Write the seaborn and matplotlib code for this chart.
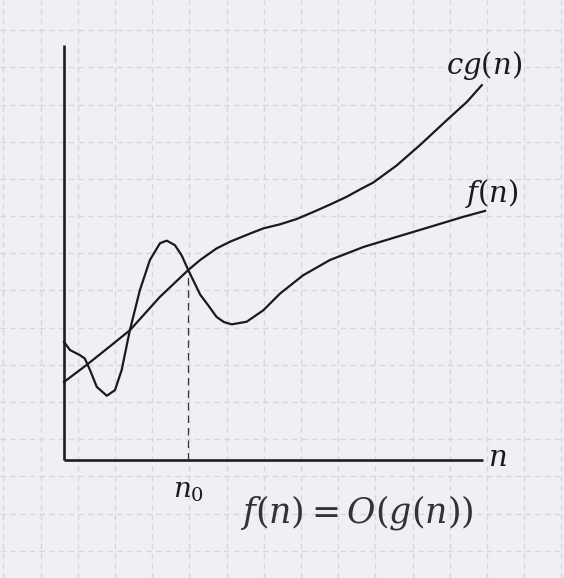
import numpy as np
import pandas as pd
import matplotlib
matplotlib.use("Agg")
import matplotlib.pyplot as plt
import seaborn as sns

# Кривые в единицах клетки сетки (начало координат - угол осей)
cg_n = [0.00, 0.61, 1.20, 1.77, 2.58, 3.34, 3.66, 4.10, 4.46, 5.00, 5.36, 5.81, 6.25, 6.70,
        7.15, 7.60, 8.00, 8.31, 8.94, 9.57, 10.29, 10.83, 11.23]
cg_val = [2.10, 2.56, 3.03, 3.49, 4.39, 5.11, 5.38, 5.69, 5.87, 6.09, 6.23, 6.34, 6.48, 6.67,
          6.87, 7.08, 7.30, 7.46, 7.92, 8.47, 9.14, 9.63, 10.08]

f_n = [0.00, 0.16, 0.43, 0.56, 0.70, 0.88, 1.15, 1.37, 1.55, 1.77, 2.04, 2.31, 2.58, 2.76,
       2.98, 3.16, 3.34, 3.66, 3.87, 4.10, 4.30, 4.51, 4.91, 5.36, 5.81, 6.43, 7.15, 8.05,
       8.94, 9.84, 10.73, 11.32]
f_val = [3.18, 2.96, 2.82, 2.73, 2.42, 1.97, 1.73, 1.88, 2.42, 3.49, 4.57, 5.38, 5.83, 5.90,
         5.78, 5.51, 5.11, 4.45, 4.17, 3.85, 3.71, 3.65, 3.72, 4.03, 4.48, 4.97, 5.38, 5.73,
         6.00, 6.27, 6.54, 6.70]

n0 = 3.34
n0_val = 5.11
x_axis_end = 11.26
y_axis_end = 11.16

plt.rcParams["mathtext.fontset"] = "dejavuserif"

df = pd.concat([
    pd.DataFrame({"n": cg_n, "val": cg_val, "curve": "cg"}),
    pd.DataFrame({"n": f_n, "val": f_val, "curve": "f"}),
])

fig = plt.figure(figsize=(5.64, 5.78), dpi=100)
fig.patch.set_facecolor("#eff0f5")
ax = fig.add_axes([0, 0, 1, 1])
ax.set_facecolor("#eff0f5")

# Фон в клетку
for x in np.arange(-1.63, 13.5, 1.0):
    ax.axvline(x, color="#d5d7dd", lw=1.0, ls=(0, (4, 3)), zorder=0)
for y in np.arange(-2.44, 12.4, 1.0):
    ax.axhline(y, color="#d5d7dd", lw=1.0, ls=(0, (4, 3)), zorder=0)

# Оси
ax.plot([0, 0], [0, y_axis_end], color="#1e1e1e", lw=1.9, solid_capstyle="butt")
ax.plot([0, x_axis_end], [0, 0], color="#1e1e1e", lw=1.9, solid_capstyle="butt")

# Кривые
for name, grp in df.groupby("curve"):
    sns.lineplot(data=grp, x="n", y="val", ax=ax, color="#1a1a1a", lw=1.6,
                 sort=False, estimator=None, legend=False, solid_joinstyle="round")

ax.plot([n0, n0], [0, n0_val], color="#333333", lw=0.9, ls=(0, (6, 4)))

ax.text(11.28, 10.62, r"$cg(n)$", fontsize=21, ha="center", va="center", color="#1a1a1a")
ax.text(11.5, 7.18, r"$f(n)$", fontsize=21, ha="center", va="center", color="#1a1a1a")
ax.text(11.4, 0.05, r"$n$", fontsize=21, ha="left", va="center", color="#1a1a1a")
ax.text(n0, -0.8, r"$n_0$", fontsize=20, ha="center", va="center", color="#1a1a1a")
ax.text(7.88, -1.4, r"$f(n) = O(g(n))$", fontsize=25, ha="center", va="center", color="#333333")

ax.set_xlim(-1.72, 13.44)
ax.set_ylim(-3.17, 12.37)
ax.set_xlabel("")
ax.set_ylabel("")
ax.axis("off")

fig.savefig("out.png", dpi=100, facecolor=fig.get_facecolor())
